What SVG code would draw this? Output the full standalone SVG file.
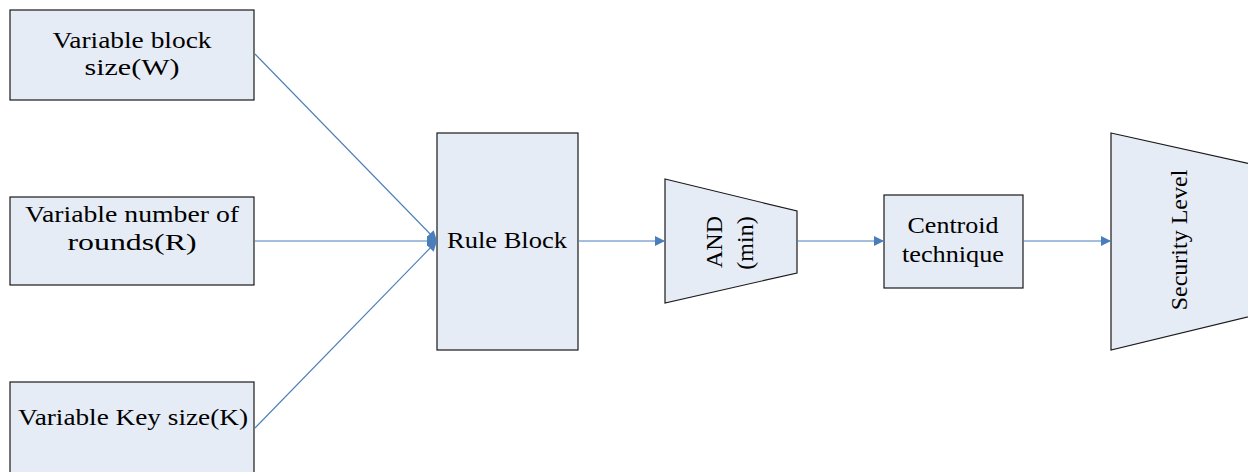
<svg xmlns="http://www.w3.org/2000/svg" width="1248" height="472" viewBox="0 0 1248 472">
  <defs>
    <marker id="arrow" viewBox="0 0 10 10" refX="10" refY="5" markerWidth="10" markerHeight="10" markerUnits="userSpaceOnUse" orient="auto">
      <path d="M0,0 L10,5 L0,10 Z" fill="#4A7EBB"/>
    </marker>
  </defs>
  <style>
    .shape { fill: #E6ECF6; stroke: #1a1a1a; stroke-width: 1.2; }
    .label { font-size: 24px; fill: #000; text-anchor: middle; }
    .link { stroke: #4A7EBB; stroke-width: 1.1; fill: none; marker-end: url(#arrow); }
  </style>
  <rect width="1248" height="472" fill="#fff"/>

  <g font-family="Liberation Serif, Times New Roman, serif">
  <g id="block-size">
    <rect class="shape" x="10" y="10" width="244" height="90"/>
    <text class="label" x="132" y="48" textLength="159" lengthAdjust="spacingAndGlyphs">Variable block</text>
    <text class="label" x="132" y="75" textLength="95" lengthAdjust="spacingAndGlyphs">size(W)</text>
  </g>

  <g id="rounds">
    <rect class="shape" x="10" y="197" width="244" height="88"/>
    <text class="label" x="132" y="222" textLength="214" lengthAdjust="spacingAndGlyphs">Variable number of</text>
    <text class="label" x="132" y="250" textLength="129" lengthAdjust="spacingAndGlyphs">rounds(R)</text>
  </g>

  <g id="key-size">
    <rect class="shape" x="10" y="382" width="244" height="110"/>
    <text class="label" x="133" y="425" textLength="230" lengthAdjust="spacingAndGlyphs">Variable Key size(K)</text>
  </g>

  <g id="rule-block">
    <rect class="shape" x="437" y="133" width="141" height="217"/>
    <text class="label" x="507" y="248" textLength="120" lengthAdjust="spacingAndGlyphs">Rule Block</text>
  </g>

  <g id="and-min">
    <polygon class="shape" points="665,179 797,211 797,273 665,303"/>
    <text class="label" transform="translate(722,242) rotate(-90)">AND</text>
    <text class="label" transform="translate(753,243) rotate(-90)">(min)</text>
  </g>

  <g id="centroid">
    <rect class="shape" x="884" y="195" width="139" height="93"/>
    <text class="label" x="953" y="233" textLength="91" lengthAdjust="spacingAndGlyphs">Centroid</text>
    <text class="label" x="953" y="262" textLength="102" lengthAdjust="spacingAndGlyphs">technique</text>
  </g>

  <g id="security-level">
    <polygon class="shape" points="1111,133 1260,166 1260,314 1111,350"/>
    <text class="label" transform="translate(1187,240) rotate(-90)">Security Level</text>
  </g>
  </g>

  <g id="connectors">
    <line class="link" x1="255" y1="54" x2="437" y2="241"/>
    <line class="link" x1="255" y1="241" x2="437" y2="241"/>
    <line class="link" x1="255" y1="428" x2="437" y2="241"/>
    <line class="link" x1="578" y1="241" x2="665" y2="241"/>
    <line class="link" x1="797" y1="241" x2="884" y2="241"/>
    <line class="link" x1="1023" y1="241" x2="1111" y2="241"/>
  </g>
</svg>
